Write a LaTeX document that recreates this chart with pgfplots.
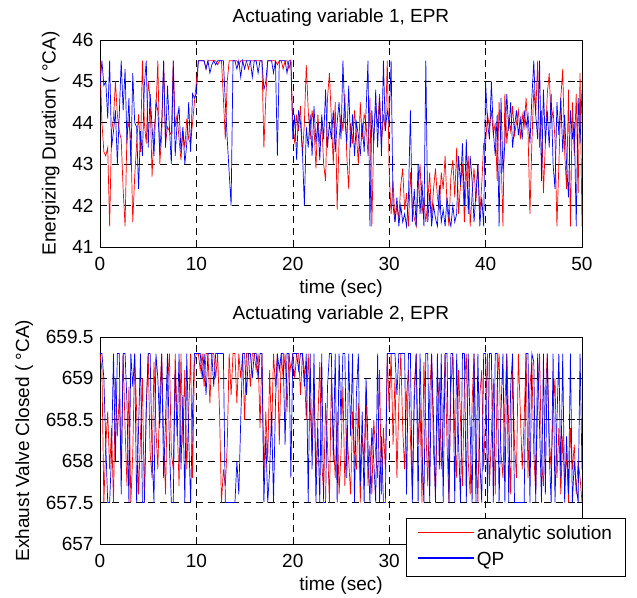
\documentclass[border=0pt]{standalone}
\usepackage{fontspec}
\setmainfont{Liberation Sans}
\usepackage{pgfplots}
\usepackage{pgfplotstable}
\pgfplotsset{compat=1.18}

% top panel: t, analytic solution, QP
\pgfplotstableread{
t a q
0.0 45.5 44.9
0.2 44.0 45.5
0.4 43.3 44.9
0.6 43.2 45.0
0.8 43.4 44.1
1.0 41.5 45.5
1.2 43.8 43.4
1.4 44.1 43.8
1.6 45.0 44.3
1.8 44.2 43.0
2.0 43.8 44.2
2.2 43.6 45.5
2.4 42.4 44.3
2.6 41.5 45.3
2.8 43.8 43.5
3.0 44.0 44.6
3.2 43.6 43.0
3.4 41.6 45.2
3.6 42.7 44.0
3.8 43.5 43.9
4.0 44.2 42.4
4.2 43.3 43.8
4.4 45.5 43.2
4.6 44.0 44.9
4.8 43.5 45.5
5.0 45.0 43.4
5.2 44.6 44.7
5.4 42.7 43.9
5.6 43.8 43.2
5.8 44.3 44.5
6.0 45.5 44.3
6.2 43.0 43.3
6.4 43.7 44.0
6.6 45.5 45.5
6.8 43.5 43.4
7.0 43.9 44.9
7.2 43.8 43.9
7.4 43.7 43.0
7.6 45.5 45.5
7.8 43.9 43.2
8.0 44.2 44.0
8.2 43.6 44.4
8.4 43.1 43.3
8.6 43.8 43.9
8.8 43.4 43.0
9.0 44.1 43.5
9.2 43.6 44.5
9.4 43.5 43.3
9.6 44.0 44.7
9.8 44.5 44.6
10.0 45.0 44.7
10.2 45.5 45.5
10.4 45.5 45.5
10.6 45.5 45.5
10.8 45.5 45.5
11.0 45.3 45.3
11.2 45.5 45.5
11.4 45.5 45.2
11.6 45.5 45.4
11.8 45.5 45.5
12.0 45.5 45.4
12.2 45.4 45.5
12.4 45.5 45.5
12.6 45.5 45.5
12.8 44.6 45.5
13.0 43.6 44.5
13.2 45.0 43.6
13.4 45.5 42.8
13.6 45.5 42.0
13.8 45.5 45.5
14.0 45.5 45.5
14.2 45.5 45.3
14.4 45.4 45.5
14.6 45.5 45.1
14.8 45.5 45.5
15.0 45.5 45.3
15.2 45.5 45.5
15.4 45.3 45.5
15.6 45.5 45.5
15.8 45.5 45.1
16.0 45.5 45.5
16.2 45.5 45.5
16.4 45.5 45.2
16.6 45.5 45.5
16.8 45.5 45.5
17.0 43.4 44.8
17.2 44.6 45.0
17.4 45.5 45.5
17.6 45.5 45.5
17.8 45.5 45.5
18.0 45.5 45.2
18.2 45.5 45.5
18.4 45.4 43.2
18.6 45.5 45.5
18.8 45.5 45.5
19.0 45.3 45.5
19.2 45.5 45.5
19.4 45.5 45.2
19.6 45.3 45.5
19.8 45.5 45.5
20.0 44.0 43.6
20.2 43.5 44.2
20.4 44.2 43.1
20.6 43.8 44.3
20.8 44.4 44.0
21.0 43.2 43.3
21.2 44.0 42.0
21.4 45.4 43.9
21.6 44.3 43.4
21.8 43.6 44.2
22.0 44.3 43.2
22.2 43.9 44.4
22.4 42.9 43.5
22.6 44.2 44.0
22.8 43.5 43.1
23.0 44.0 44.2
23.2 43.0 43.6
23.4 42.6 44.8
23.6 44.6 43.4
23.8 45.2 44.0
24.0 44.1 43.6
24.2 43.0 44.3
24.4 44.5 43.3
24.6 41.9 44.0
24.8 43.6 44.5
25.0 44.2 43.6
25.2 43.8 45.5
25.4 44.7 44.1
25.6 43.2 43.5
25.8 42.4 44.9
26.0 44.0 43.4
26.2 43.5 44.2
26.4 44.3 43.2
26.6 43.7 44.0
26.8 43.0 43.7
27.0 44.5 43.2
27.2 43.6 44.0
27.4 44.2 43.3
27.6 44.0 44.3
27.8 43.2 45.5
28.0 44.6 41.5
28.2 41.5 44.3
28.4 43.7 43.5
28.6 44.4 44.8
28.8 43.9 43.4
29.0 44.7 44.6
29.2 43.5 43.2
29.4 44.2 45.5
29.6 43.8 43.8
29.8 45.5 44.3
30.0 42.8 44.0
30.2 41.8 45.5
30.4 42.6 42.0
30.6 41.6 41.6
30.8 42.0 42.2
31.0 41.7 41.5
31.2 42.5 42.0
31.4 42.9 41.6
31.6 41.9 41.8
31.8 42.3 41.5
32.0 41.5 42.2
32.2 42.8 44.3
32.4 42.0 41.6
32.6 41.7 42.4
32.8 41.5 41.5
33.0 42.4 43.0
33.2 43.0 41.8
33.4 41.8 42.6
33.6 42.2 41.5
33.8 41.6 45.5
34.0 42.1 41.6
34.2 42.8 42.3
34.4 41.7 41.5
34.6 42.4 42.0
34.8 42.9 41.7
35.0 42.2 41.5
35.2 41.9 42.5
35.4 42.8 41.6
35.6 42.4 41.9
35.8 43.2 41.5
36.0 42.0 42.2
36.2 41.5 41.7
36.4 42.7 41.5
36.6 43.1 42.0
36.8 42.2 41.6
37.0 43.4 41.8
37.2 41.8 43.2
37.4 42.5 42.5
37.6 43.0 43.5
37.8 41.6 42.0
38.0 42.7 43.6
38.2 43.2 41.8
38.4 41.5 43.2
38.6 42.3 42.6
38.8 42.9 41.6
39.0 42.1 42.3
39.2 43.0 43.0
39.4 41.8 41.5
39.6 42.5 42.2
39.8 43.5 41.5
40.0 43.5 45.0
40.2 44.2 44.0
40.4 43.9 43.6
40.6 44.3 45.0
40.8 43.7 43.8
41.0 44.0 43.2
41.2 42.6 44.2
41.4 44.5 41.5
41.6 43.3 44.6
41.8 41.5 42.8
42.0 44.7 43.5
42.2 43.5 44.7
42.4 44.1 43.8
42.6 43.8 44.5
42.8 44.4 43.4
43.0 43.7 43.9
43.2 44.0 44.3
43.4 44.3 43.7
43.6 43.6 44.1
43.8 44.2 43.6
44.0 43.9 44.3
44.2 44.6 43.9
44.4 43.8 44.2
44.6 41.8 43.5
44.8 43.5 44.6
45.0 44.8 45.5
45.2 44.2 44.2
45.4 45.5 43.6
45.6 43.4 45.5
45.8 44.3 42.6
46.0 42.3 44.8
46.2 43.5 43.5
46.4 44.7 44.3
46.6 45.2 43.4
46.8 44.0 44.7
47.0 44.3 43.0
47.2 43.6 42.4
47.4 41.5 44.5
47.6 43.0 43.7
47.8 44.6 44.6
48.0 45.3 43.3
48.2 43.3 44.2
48.4 42.4 43.0
48.6 44.8 42.2
48.8 41.5 44.3
49.0 44.5 43.6
49.2 43.2 44.0
49.4 44.7 41.5
49.6 42.3 44.6
49.8 45.2 43.5
50.0 41.5 44.8
}\tabA

% bottom panel: t, analytic solution, QP
\pgfplotstableread{
t a q
0.0 659.3 659.3
0.2 659.1 659.3
0.4 657.5 659.0
0.6 658.2 658.2
0.8 658.6 657.5
1.0 657.9 657.5
1.2 658.4 658.1
1.4 657.5 659.3
1.6 659.0 658.0
1.8 658.3 659.3
2.0 658.8 659.3
2.2 657.9 657.6
2.4 659.3 659.3
2.6 658.4 659.3
2.8 657.7 658.7
3.0 658.9 657.5
3.2 657.5 659.3
3.4 658.1 658.9
3.6 659.3 659.3
3.8 658.6 657.5
4.0 657.6 658.4
4.2 658.3 659.3
4.4 659.0 657.5
4.6 657.5 657.5
4.8 658.7 658.6
5.0 659.3 659.3
5.2 658.1 659.3
5.4 657.8 658.1
5.6 659.2 657.5
5.8 658.4 659.3
6.0 657.9 659.0
6.2 658.8 658.4
6.4 659.3 659.3
6.6 658.3 657.8
6.8 657.6 658.5
7.0 658.9 659.3
7.2 659.3 658.2
7.4 658.1 657.5
7.6 657.9 657.5
7.8 659.3 659.1
8.0 658.5 658.3
8.2 657.7 659.3
8.4 659.3 657.9
8.6 658.2 658.8
8.8 659.1 657.5
9.0 657.9 659.3
9.2 658.6 658.3
9.4 659.3 657.5
9.6 657.8 658.6
9.8 659.2 659.3
10.0 659.3 659.3
10.2 659.3 659.3
10.4 659.1 659.3
10.6 659.3 659.0
10.8 658.9 659.3
11.0 659.3 658.8
11.2 659.3 659.3
11.4 658.7 659.3
11.6 659.3 659.3
11.8 659.3 658.9
12.0 659.0 659.3
12.2 659.3 659.3
12.4 658.6 659.3
12.6 657.5 659.3
12.8 657.9 659.3
13.0 657.7 657.5
13.2 658.2 657.5
13.4 659.3 657.5
13.6 658.8 657.5
13.8 659.3 657.5
14.0 659.3 657.5
14.2 658.7 658.0
14.4 659.3 657.6
14.6 659.0 658.5
14.8 659.3 659.3
15.0 658.5 659.3
15.2 659.3 658.8
15.4 659.3 659.3
15.6 658.9 659.3
15.8 659.3 659.0
16.0 659.3 659.3
16.2 659.1 659.3
16.4 659.3 659.0
16.6 658.4 659.3
16.8 659.3 659.3
17.0 657.8 657.5
17.2 658.6 658.3
17.4 658.0 657.5
17.6 659.1 657.9
17.8 658.3 658.6
18.0 659.3 657.5
18.2 658.9 658.7
18.4 659.3 659.3
18.6 658.2 659.1
18.8 659.3 659.3
19.0 659.0 659.3
19.2 659.3 658.2
19.4 658.6 659.3
19.6 659.3 659.3
19.8 659.1 657.8
20.0 659.3 659.3
20.2 659.0 659.3
20.4 659.3 659.3
20.6 659.3 659.1
20.8 658.8 659.3
21.0 659.3 659.3
21.2 659.1 658.9
21.4 658.5 659.3
21.6 659.3 657.5
21.8 658.7 659.3
22.0 658.1 657.9
22.2 658.9 659.3
22.4 657.8 657.5
22.6 658.5 658.4
22.8 659.2 657.5
23.0 658.0 659.3
23.2 657.6 657.5
23.4 658.7 657.5
23.6 658.2 658.9
23.8 657.5 659.3
24.0 659.0 659.3
24.2 658.3 658.0
24.4 657.8 659.3
24.6 658.6 657.5
24.8 657.6 659.3
25.0 658.1 658.5
25.2 658.9 659.3
25.4 657.7 659.3
25.6 658.4 657.8
25.8 658.0 659.3
26.0 657.6 658.3
26.2 658.6 659.3
26.4 658.1 657.5
26.6 657.9 658.8
26.8 658.7 659.3
27.0 657.5 657.7
27.2 658.3 658.6
27.4 658.0 657.5
27.6 658.9 659.0
27.8 657.7 658.2
28.0 658.2 657.5
28.2 657.6 658.4
28.4 658.5 658.0
28.6 658.1 657.5
28.8 657.8 659.3
29.0 659.1 657.5
29.2 657.6 658.3
29.4 658.4 657.5
29.6 657.9 657.5
29.8 659.3 659.3
30.0 658.6 659.3
30.2 659.3 659.3
30.4 658.2 659.3
30.6 659.0 659.3
30.8 657.8 658.8
31.0 658.7 659.3
31.2 659.3 659.3
31.4 658.4 659.3
31.6 657.9 659.3
31.8 658.8 657.6
32.0 659.1 659.3
32.2 658.3 659.3
32.4 657.6 657.5
32.6 658.9 658.7
32.8 659.3 659.3
33.0 658.2 657.5
33.2 658.7 659.3
33.4 657.5 658.1
33.6 659.2 657.5
33.8 658.4 659.3
34.0 657.7 659.3
34.2 658.8 657.5
34.4 659.3 659.3
34.6 658.1 658.5
34.8 657.6 657.5
35.0 658.6 659.3
35.2 659.0 657.9
35.4 657.9 659.3
35.6 658.5 657.5
35.8 659.3 659.3
36.0 658.2 659.3
36.2 657.5 657.5
36.4 658.9 659.3
36.6 659.3 659.3
36.8 658.3 657.5
37.0 657.8 659.3
37.2 659.1 658.2
37.4 658.5 657.5
37.6 657.7 659.3
37.8 658.9 659.3
38.0 659.3 657.5
38.2 658.0 659.3
38.4 657.6 658.4
38.6 658.7 657.5
38.8 659.3 659.3
39.0 658.2 657.5
39.2 657.5 659.3
39.4 658.8 658.0
39.6 659.1 657.5
39.8 657.9 659.3
40.0 658.6 659.3
40.2 659.3 657.5
40.4 657.7 659.3
40.6 658.3 659.3
40.8 659.0 657.5
41.0 657.6 659.3
41.2 658.9 659.3
41.4 659.3 657.5
41.6 658.1 658.6
41.8 657.8 659.3
42.0 658.7 657.5
42.2 659.3 659.3
42.4 658.4 657.5
42.6 657.6 658.9
42.8 659.1 659.3
43.0 658.2 657.5
43.2 657.8 657.5
43.4 659.3 657.5
43.6 658.6 657.5
43.8 657.9 657.5
44.0 658.5 657.5
44.2 659.3 659.3
44.4 657.8 659.3
44.6 658.9 657.5
44.8 659.2 659.3
45.0 658.1 659.2
45.2 657.6 657.5
45.4 658.7 659.3
45.6 659.3 658.4
45.8 658.0 657.5
46.0 657.7 659.3
46.2 658.8 657.6
46.4 659.3 659.3
46.6 658.3 658.1
46.8 657.9 657.5
47.0 658.6 659.3
47.2 659.0 657.5
47.4 657.8 658.5
47.6 658.4 659.3
47.8 657.6 657.8
48.0 658.3 659.3
48.2 657.7 657.5
48.4 658.1 658.3
48.6 657.5 657.6
48.8 658.4 659.3
49.0 657.9 657.5
49.2 658.2 658.0
49.4 657.6 657.7
49.6 658.0 657.5
49.8 657.8 659.3
50.0 657.5 657.9
}\tabB

\pgfplotsset{
  mat/.style={
    scale only axis, width=482pt, height=207pt, anchor=south west,
    xmin=0, xmax=50, xtick={0,10,...,50},
    grid=major,
    major grid style={black, line width=0.6pt, dash pattern=on 7pt off 5pt},
    tick align=inside, major tick length=5pt,
    tick style={black, line width=0.6pt},
    axis line style={line width=0.9pt},
    /pgf/number format/assume math mode=true,
    title style={yshift=1pt},
    xticklabel style={yshift=-4pt},
    xlabel style={yshift=4pt},
    xlabel={time (sec)},
    ylabel near ticks,
  },
  ser/.style={line width=0.7pt},
}

\begin{document}
\fontsize{19}{23}\selectfont
\begin{tikzpicture}
\useasboundingbox (0,0) rectangle (637pt,597pt);

\begin{axis}[mat, at={(100pt,350pt)},
  ymin=41, ymax=46, ytick={41,42,43,44,45,46},
  title={Actuating variable 1, EPR},
  ylabel={Energizing Duration ( °CA)}]
\addplot[red, ser] table[x=t, y=a] {\tabA};
\addplot[blue, ser] table[x=t, y=q] {\tabA};
\end{axis}

\begin{axis}[mat, at={(100pt,53pt)},
  ymin=657, ymax=659.5, ytick={657,657.5,658,658.5,659,659.5},
  title={Actuating variable 2, EPR},
  ylabel={Exhaust Valve Closed ( °CA)},
  legend cell align=left,
  legend style={at={(rel axis cs:0.635,0.126)}, anchor=north west,
    fill=white, inner xsep=11pt, inner ysep=6pt, row sep=5pt},
  legend image code/.code={\draw[#1] (0pt,2pt) -- (56pt,2pt);}]
\addplot[red, ser, forget plot] table[x=t, y=a] {\tabB};
\addplot[blue, ser, forget plot] table[x=t, y=q] {\tabB};
\addlegendimage{draw=red, line width=1.5pt}
\addlegendentry{analytic solution}
\addlegendimage{draw=blue, line width=1.5pt}
\addlegendentry{QP}
\end{axis}
\end{tikzpicture}
\end{document}
